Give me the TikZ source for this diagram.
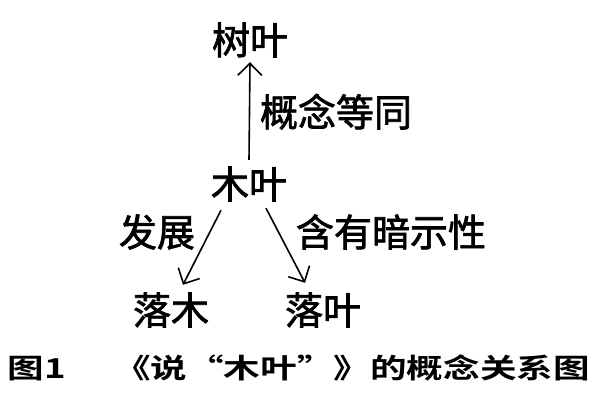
\documentclass[tikz,border=0pt]{standalone}
\usepackage{fontspec}
\usetikzlibrary{arrows.meta}
\newfontfamily\cjk{Noto Sans CJK SC}[FakeBold=1.8]
\newfontfamily\cjkb{Noto Sans CJK SC Bold}
\begin{document}
\begin{tikzpicture}[x=1pt,y=-1pt,
  lbl/.style={inner sep=0pt, font=\cjk\fontsize{38pt}{40pt}\selectfont, text height=33.4pt, text depth=4.6pt},
  captext/.style={inner sep=0pt, font=\cjkb\fontsize{36.6pt}{40pt}\selectfont, text height=32.2pt, text depth=4.4pt},
  arr/.style={line width=1.6pt, -{Straight Barb[length=12pt,width=24pt,line width=1.6pt]}}]
\useasboundingbox (0,0) rectangle (601,413);
\node[lbl] (shu) at (250,40) {树叶};
\node[lbl] (mu) at (249,184) {木叶};
\node[lbl] (luomu) at (171,310) {落木};
\node[lbl] (luoye) at (323,310) {落叶};
\node[lbl] (l1) at (336,112) {概念等同};
\node[lbl] (l2) at (157,232) {发展};
\node[lbl] (l3) at (391,232) {含有暗示性};
\node[captext] (c1) at (37,365) {\scalebox{1}[0.75]{图1}};
\node[captext, anchor=east] (c2) at (590,365) {\scalebox{1}[0.75]{《说“木叶”》的概念关系图}};
\draw[arr] ([yshift=5pt]mu.north) -- ([yshift=-3pt]shu.south);
\draw[arr] ([xshift=-28pt,yshift=-7pt]mu.south) -- ([xshift=12pt,yshift=6pt]luomu.north);
\draw[arr] ([xshift=17pt,yshift=-5pt]mu.south) -- ([xshift=-18pt,yshift=8pt]luoye.north);
\end{tikzpicture}
\end{document}
